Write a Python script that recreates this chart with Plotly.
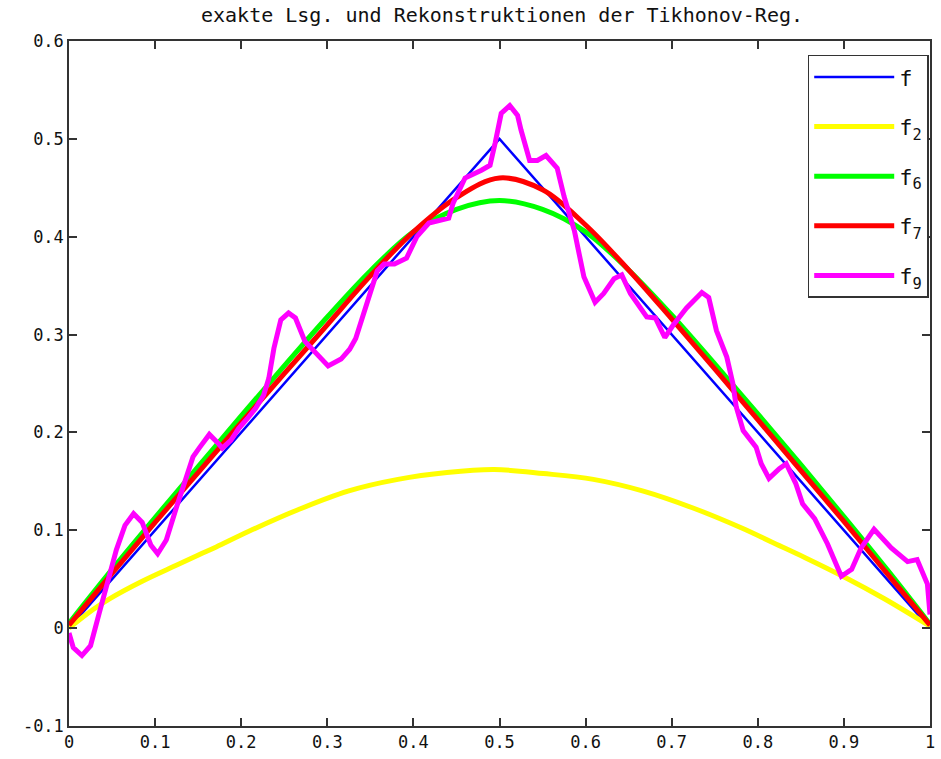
import plotly.graph_objects as go

# exact solution (triangle)
x_f = [0.0, 0.5, 1.0]
y_f = [0.0, 0.5, 0.0]

# f2 (yellow)
x_f2 = [0.0, 0.028, 0.047, 0.085, 0.124, 0.151, 0.171, 0.209, 0.266, 0.324, 0.382, 0.439,
        0.494, 0.551, 0.609, 0.667, 0.724, 0.782, 0.816, 0.855, 0.901, 0.947, 1.0]
y_f2 = [0.0, 0.019, 0.03, 0.048, 0.064, 0.075, 0.083, 0.099, 0.121, 0.14, 0.152, 0.159,
        0.162, 0.158, 0.152, 0.140, 0.123, 0.102, 0.088, 0.072, 0.052, 0.030, 0.002]

# f6 (green) and f7 (red)
x_grid = [0.0, 0.05, 0.1, 0.15, 0.2, 0.25, 0.3, 0.35, 0.4, 0.45, 0.5,
          0.55, 0.6, 0.65, 0.7, 0.75, 0.8, 0.85, 0.9, 0.95, 1.0]
y_f6 = [0.005, 0.06, 0.113, 0.165, 0.217, 0.268, 0.318, 0.365, 0.405, 0.428, 0.437,
        0.428, 0.405, 0.366, 0.32, 0.27, 0.219, 0.167, 0.114, 0.06, 0.004]
y_f7 = [0.003, 0.056, 0.108, 0.159, 0.21, 0.26, 0.31, 0.36, 0.405, 0.44, 0.46,
        0.448, 0.412, 0.366, 0.316, 0.265, 0.213, 0.161, 0.109, 0.056, 0.003]

# f9 (magenta)
x_f9 = [0.000, 0.005, 0.015, 0.025, 0.035, 0.045, 0.055, 0.065, 0.075, 0.085, 0.095, 0.103,
        0.113, 0.125, 0.135, 0.144, 0.152, 0.163, 0.172, 0.178, 0.188, 0.197, 0.207, 0.217,
        0.226, 0.232, 0.238, 0.246, 0.255, 0.263, 0.274, 0.29, 0.301, 0.316, 0.326, 0.333,
        0.341, 0.350, 0.358, 0.366, 0.378, 0.392, 0.404, 0.418, 0.429, 0.441, 0.446, 0.460,
        0.479, 0.489, 0.495, 0.502, 0.512, 0.521, 0.525, 0.535, 0.544, 0.554, 0.567, 0.575,
        0.587, 0.598, 0.611, 0.621, 0.633, 0.642, 0.652, 0.663, 0.671, 0.681, 0.692, 0.702,
        0.717, 0.735, 0.743, 0.752, 0.764, 0.771, 0.775, 0.783, 0.798, 0.804, 0.813, 0.825,
        0.833, 0.844, 0.852, 0.866, 0.881, 0.897, 0.909, 0.920, 0.935, 0.955, 0.974, 0.985,
        0.997, 1.0]
y_f9 = [-0.005, -0.02, -0.028, -0.018, 0.015, 0.049, 0.08, 0.105, 0.117, 0.108, 0.085, 0.076,
        0.09, 0.124, 0.152, 0.175, 0.185, 0.198, 0.19, 0.184, 0.192, 0.204, 0.214, 0.225,
        0.238, 0.255, 0.286, 0.315, 0.322, 0.317, 0.293, 0.278, 0.268, 0.275, 0.285, 0.296,
        0.318, 0.345, 0.365, 0.372, 0.372, 0.378, 0.40, 0.414, 0.417, 0.419, 0.434, 0.460,
        0.468, 0.473, 0.496, 0.526, 0.534, 0.524, 0.509, 0.478, 0.478, 0.483, 0.470, 0.441,
        0.406, 0.359, 0.333, 0.342, 0.357, 0.361, 0.342, 0.328, 0.318, 0.317, 0.297, 0.31,
        0.327, 0.343, 0.338, 0.304, 0.277, 0.250, 0.226, 0.202, 0.185, 0.168, 0.153, 0.163,
        0.168, 0.148, 0.127, 0.112, 0.086, 0.053, 0.06, 0.082, 0.101, 0.082, 0.068, 0.07,
        0.045, 0.014]

x_tickvals = [0, 0.1, 0.2, 0.3, 0.4, 0.5, 0.6, 0.7, 0.8, 0.9, 1]
x_ticktext = ["0", "0.1", "0.2", "0.3", "0.4", "0.5", "0.6", "0.7", "0.8", "0.9", "1"]
y_tickvals = [-0.1, 0, 0.1, 0.2, 0.3, 0.4, 0.5, 0.6]
y_ticktext = ["-0.1", "0", "0.1", "0.2", "0.3", "0.4", "0.5", "0.6"]

FONT = "DejaVu Sans Mono"

fig = go.Figure()
fig.add_trace(go.Scatter(x=x_f, y=y_f, mode="lines", name="f", legendgroup="a",
                         line=dict(color="#0000FF", width=2.5)))
fig.add_trace(go.Scatter(x=x_f2, y=y_f2, mode="lines", name="f<sub>2</sub>", legendgroup="b",
                         line=dict(color="#FFFF00", width=5, shape="spline")))
fig.add_trace(go.Scatter(x=x_grid, y=y_f6, mode="lines", name="f<sub>6</sub>", legendgroup="c",
                         line=dict(color="#00FF00", width=5, shape="spline")))
fig.add_trace(go.Scatter(x=x_grid, y=y_f7, mode="lines", name="f<sub>7</sub>", legendgroup="d",
                         line=dict(color="#FF0000", width=5, shape="spline")))
fig.add_trace(go.Scatter(x=x_f9, y=y_f9, mode="lines", name="f<sub>9</sub>", legendgroup="e",
                         line=dict(color="#FF00FF", width=5)))

axis_common = dict(showgrid=False, zeroline=False, showline=True, linecolor="#333333",
                   linewidth=1.5, mirror="ticks", ticks="inside", ticklen=8,
                   tickcolor="#333333", tickwidth=1.5,
                   tickfont=dict(family=FONT, size=17, color="#111111"))

fig.update_layout(
    width=941, height=759,
    margin=dict(l=69, r=6, t=41, b=33),
    paper_bgcolor="white", plot_bgcolor="white",
    title=dict(text="exakte Lsg. und Rekonstruktionen der Tikhonov-Reg.",
               x=0.5335, xanchor="center", y=0.980, yanchor="middle",
               font=dict(family=FONT, size=20, color="#111111")),
    xaxis=dict(range=[0, 1], tickvals=x_tickvals, ticktext=x_ticktext, **axis_common),
    yaxis=dict(range=[-0.1, 0.6], tickvals=y_tickvals, ticktext=y_ticktext, **axis_common),
    legend=dict(x=0.9985, xanchor="right", y=0.98, yanchor="top",
                bordercolor="#333333", borderwidth=1.5, bgcolor="white",
                font=dict(family=FONT, size=22, color="#111111"),
                tracegroupgap=18, traceorder="grouped", itemwidth=80),
    showlegend=True,
)

fig.write_html("out.html")
